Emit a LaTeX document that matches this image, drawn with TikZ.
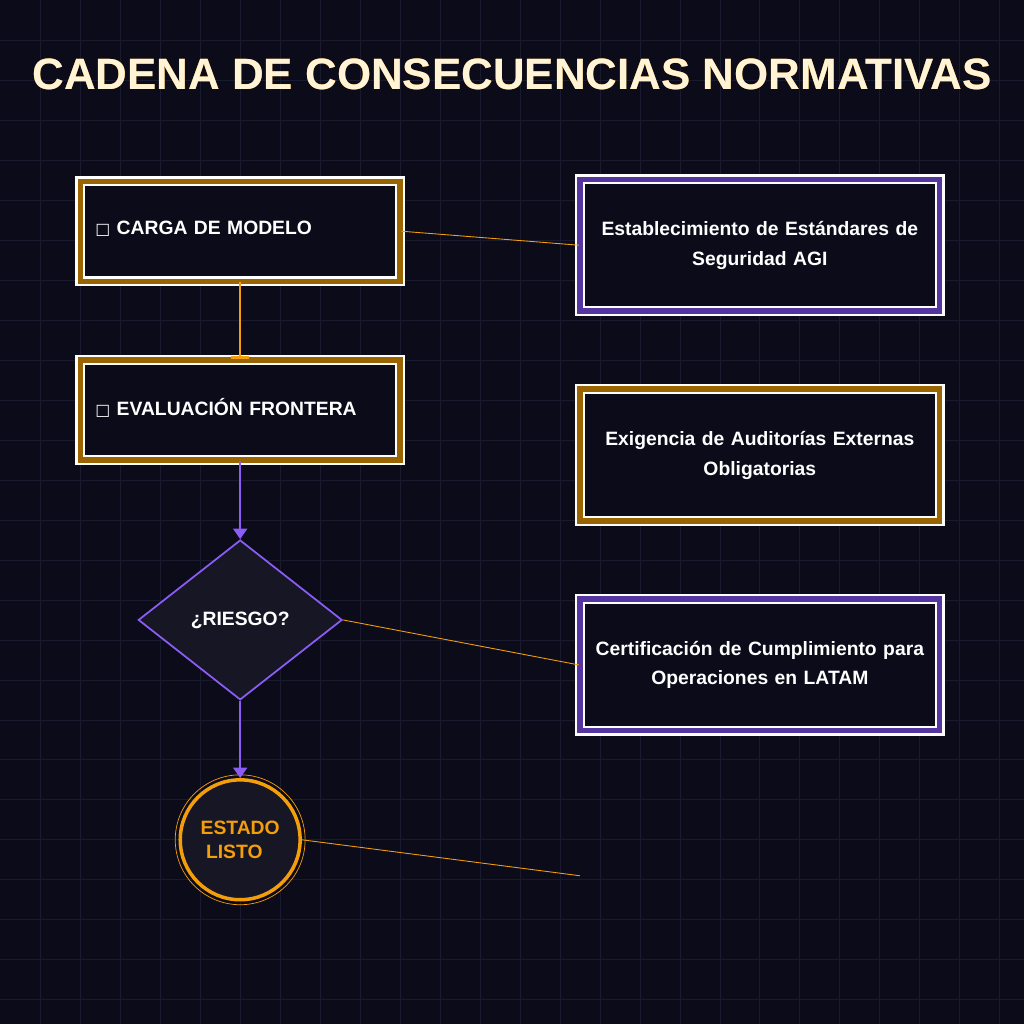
\documentclass[tikz,border=0pt]{standalone}
\usepackage{fontspec}
\setmainfont{Liberation Sans}
\newfontfamily\symfont{DejaVu Sans}
\usepackage[outline]{contour}
\contourlength{1.2pt}
\usetikzlibrary{shapes.geometric, arrows.meta}
\definecolor{bgdark}{HTML}{0B0B1A}
\definecolor{gridc}{HTML}{1A1A2E}
\definecolor{gold}{HTML}{F59E0B}
\definecolor{golddk}{HTML}{9A6400}
\definecolor{violet}{HTML}{8B5CF6}
\definecolor{violetdk}{HTML}{5535A0}
\definecolor{nodefill}{HTML}{161624}
\definecolor{cream}{HTML}{FFF4D6}
\tikzstyle{stage} = [rectangle, minimum width=6.4cm, minimum height=2cm, draw=white, line width=1.4pt, fill=bgdark, double=golddk, double distance=3pt, text=white, font=\bfseries\fontsize{11}{14}\selectfont, align=left, text width=5.8cm]
\tikzstyle{effect} = [rectangle, minimum width=7.2cm, minimum height=2.64cm, draw=white, line width=1.4pt, fill=bgdark, text=white, font=\bfseries\fontsize{11}{17}\selectfont, align=center, text width=6.8cm]
\tikzstyle{link} = [gold, line width=0.5pt]
\tikzstyle{arrow} = [violet, line width=1.2pt, -{Triangle[width=8pt,length=6pt]}]
\begin{document}
\begin{tikzpicture}[x=0.02cm, y=-0.02cm]
\fill[bgdark] (0,0) rectangle (1024,1024);
\foreach \g in {40,80,...,1000} {
  \draw[gridc, line width=0.4pt] (\g,0) -- (\g,1024);
  \draw[gridc, line width=0.4pt] (0,\g) -- (1024,\g);
}
\useasboundingbox (0,0) rectangle (1024,1024);
\node (title) at (512,74) {\fontsize{25}{28}\selectfont\bfseries\color{cream}\contour{gold}{CADENA DE CONSECUENCIAS NORMATIVAS}};
% left column
\node (load) [stage] at (240,231) {\raisebox{0.35em}{{\symfont\mdseries\small □} CARGA DE MODELO}};
\node (eval) [stage] at (240,410) {\raisebox{0.35em}{{\symfont\mdseries\small □} EVALUACIÓN FRONTERA}};
\node (risk) [diamond, draw=violet, line width=1pt, fill=nodefill, minimum width=4.08cm, minimum height=3.2cm, text=white, font=\bfseries\fontsize{11}{14}\selectfont] at (240,620) {¿RIESGO?};
\node (ready) [circle, draw=gold, line width=2pt, fill=nodefill, minimum size=2.4cm, text=gold, font=\bfseries\fontsize{11}{14}\selectfont, align=left] at (240,840) {ESTADO\\\ LISTO};
\draw[gold, line width=0.4pt] (ready.center) circle (1.3cm);
% right column
\node (std) [effect, double=violetdk, double distance=3pt] at (760,245) {Establecimiento de Estándares de\\Seguridad AGI};
\node (audit) [effect, double=golddk, double distance=3pt] at (760,455) {Exigencia de Auditorías Externas\\Obligatorias};
\node (cert) [effect, double=violetdk, double distance=3pt] at (760,665) {Certificación de Cumplimiento para\\Operaciones en LATAM};
\coordinate (free) at (580,876);
% connectors
\draw[gold, line width=1.4pt, -{Bar[width=10pt]}] (load) -- (eval);
\draw[arrow] (eval) -- (risk);
\draw[arrow] (risk) -- (ready);
\draw[link] (load.east) -- (std.west);
\draw[link] (risk.east) -- (cert.west);
\draw[link] (ready.east) -- (free);
\end{tikzpicture}
\end{document}
